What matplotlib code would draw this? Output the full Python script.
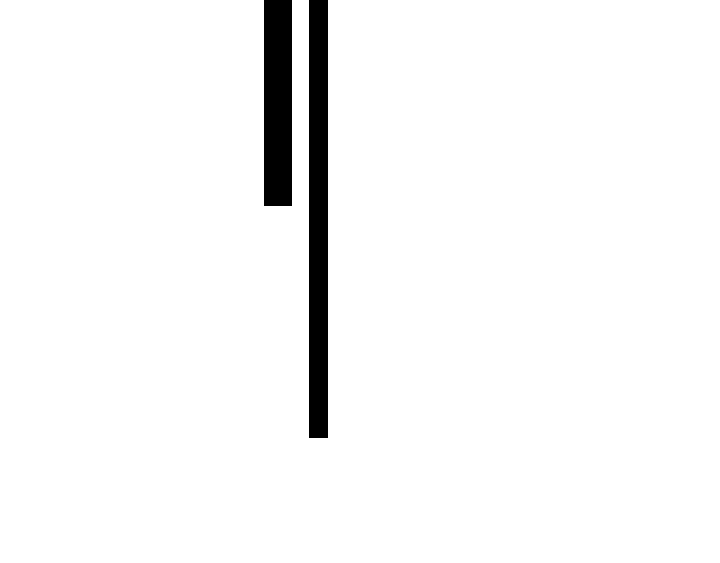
import matplotlib
matplotlib.use("Agg")
import matplotlib.pyplot as plt

# data
categories = ["A", "B"]
values = [206, 438]

# layout (pixel space of the figure)
centers = [278, 318.5]
widths = [28, 19]

fig = plt.figure(figsize=(7.2, 5.63), dpi=100)
ax = fig.add_axes([0, 0, 1, 1])
ax.bar(centers, values, width=widths, color="black", align="center")
ax.set_xlim(0, 720)
ax.set_ylim(563, 0)
ax.axis("off")

fig.savefig("out.png", dpi=100, facecolor="white")
